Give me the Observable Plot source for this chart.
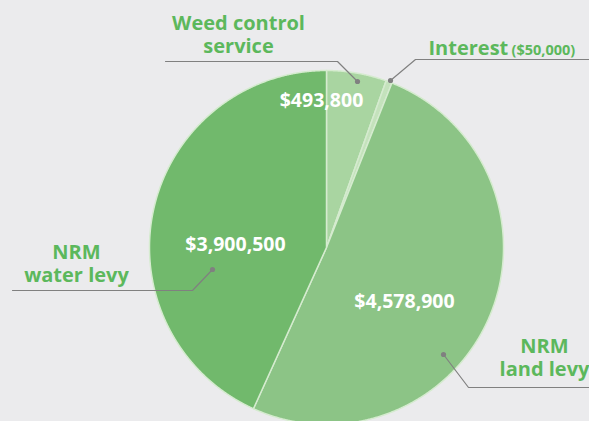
<!DOCTYPE html>
<html><head><meta charset="utf-8">
<script src="https://cdn.jsdelivr.net/npm/d3@7"></script>
<script src="https://cdn.jsdelivr.net/npm/@observablehq/plot@0.6"></script>
<style>
html,body{margin:0;padding:0;background:#ebebed;}
#chart{width:589px;height:421px;overflow:hidden;}
</style></head><body><div id="chart"></div>
<script>
// ---- data ----
const categories = ["Weed control service", "Interest", "NRM land levy", "NRM water levy"];
const values = [493800, 50000, 4578900, 3900500];
const valueLabels = ["$493,800", "$50,000", "$4,578,900", "$3,900,500"];
const nameLines = [["Weed control", "service"], ["Interest"], ["NRM", "land levy"], ["NRM", "water levy"]];

// ---- layout / style ----
const W = 589, H = 421;
const pie = {cx: 326, cy: 247, r: 177};
const sliceColors = ["#a9d5a1", "#c4e2bc", "#8cc486", "#71b96c"];
const labelColor = "#5cb85c";
const leaderPaths = [
  [[357, 81], [337, 61], [165, 61]],
  [[390, 80], [415, 59], [589, 59]],
  [[443, 354], [468, 387], [589, 387]],
  [[212, 269], [192, 290], [12, 290]]
];
// baseline of last line, anchor
const namePos = [[238, 52, "middle"], [428, 54, "start"], [544, 375, "middle"], [76, 281, "middle"]];
const lineStep = 23;
const valuePos = [[321, 106], null, [404, 307], [235, 250]];

// ---- geometry from data ----
const arcs = d3.pie().sort(null).value(d => d)(values);
const slicePts = [];
arcs.forEach((a, i) => {
  const name = categories[i];
  slicePts.push({name, x: pie.cx, y: pie.cy});
  const n = Math.max(2, Math.ceil((a.endAngle - a.startAngle) / (Math.PI / 720)));
  for (let k = 0; k <= n; k++) {
    const t = a.startAngle + (a.endAngle - a.startAngle) * k / n;
    slicePts.push({name, x: pie.cx + pie.r * Math.sin(t), y: pie.cy - pie.r * Math.cos(t)});
  }
  slicePts.push({name, x: pie.cx, y: pie.cy});
});

const leaderPts = [];
leaderPaths.forEach((p, i) => p.forEach(([x, y]) => leaderPts.push({name: categories[i], x, y})));
const dots = leaderPaths.map((p, i) => ({name: categories[i], x: p[0][0], y: p[0][1]}));

const nameTexts = [];
nameLines.forEach((lines, i) => {
  const [x, y, anchor] = namePos[i];
  lines.forEach((t, j) => nameTexts.push({text: t, x, y: y - (lines.length - 1 - j) * lineStep, anchor}));
});
const valueTexts = valueLabels.map((t, i) => valuePos[i] ? {text: t, x: valuePos[i][0], y: valuePos[i][1]} : null).filter(d => d);

const chart = Plot.plot({
  width: W, height: H, margin: 0,
  x: {domain: [0, W], range: [0, W], axis: null},
  y: {domain: [0, H], range: [0, H], axis: null},
  color: {domain: categories, range: sliceColors},
  style: {background: "#ebebed", fontFamily: "'Open Sans', sans-serif"},
  marks: [
    Plot.line(slicePts, {x: "x", y: "y", z: "name", fill: "name", stroke: "#d5ebcf", strokeWidth: 1.5, curve: "linear-closed"}),
    Plot.line(leaderPts, {x: "x", y: "y", z: "name", stroke: "#808080", strokeWidth: 1.2, strokeLinejoin: "miter"}),
    Plot.dot(dots, {x: "x", y: "y", r: 2.6, fill: "#808080"}),
    Plot.text(nameTexts.filter(d => d.anchor === "middle"), {x: "x", y: "y", text: "text", textAnchor: "middle", lineAnchor: "bottom", fontSize: 20, fontWeight: "bold", fill: labelColor}),
    Plot.text(nameTexts.filter(d => d.anchor === "start"), {x: "x", y: "y", text: "text", textAnchor: "start", lineAnchor: "bottom", fontSize: 20, fontWeight: "bold", fill: labelColor}),
    Plot.text([{text: "(" + valueLabels[1] + ")", x: 511, y: 54}], {x: "x", y: "y", text: "text", textAnchor: "start", lineAnchor: "bottom", fontSize: 14.5, fontWeight: "bold", fill: labelColor}),
    Plot.text(valueTexts, {x: "x", y: "y", text: "text", textAnchor: "middle", lineAnchor: "bottom", fontSize: 19.5, fontWeight: "bold", fill: "white"})
  ]
});
document.getElementById("chart").appendChild(chart);
</script></body></html>
